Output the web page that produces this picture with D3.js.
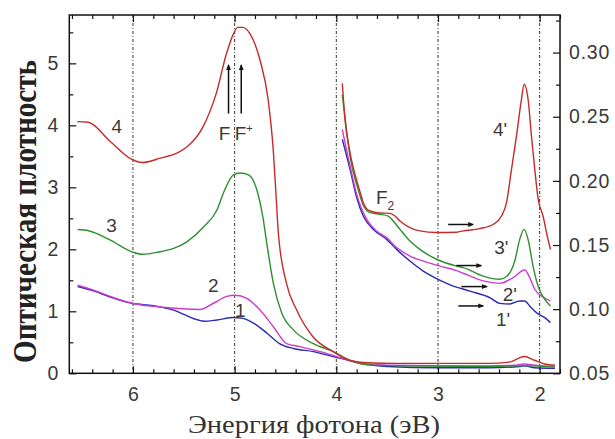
<!DOCTYPE html>
<html>
<head>
<meta charset="utf-8">
<script src="https://cdn.jsdelivr.net/npm/d3@7"></script>
<style>
  body { margin: 0; background: #fff; }
  .tick text { font-family: "Liberation Sans", Arial, sans-serif; font-size: 19.5px; fill: #3a3a3a; }
  .right .tick text { letter-spacing: 0.8px; }
  .lbl { font-family: "Liberation Sans", Arial, sans-serif; font-size: 19px; fill: #3a3a3a; }
</style>
</head>
<body>
<script>
// svg size
var svgWidth = 615;
var svgHeight = 439;

// plot box (pixels)
var box = { left: 69.3, right: 560, top: 15, bottom: 373.3 };

// axis ticks
var xMajor = [6, 5, 4, 3, 2];
var yLeftMajor = [0, 1, 2, 3, 4, 5];
var yRightMajor = [0.05, 0.10, 0.15, 0.20, 0.25, 0.30];

// left axis curves (energy eV, optical density)
var curve1 = [[6.544,1.40],[6.387,1.33],[6.223,1.23],[6.01,1.13],[5.80,1.09],[5.70,1.06],[5.60,1.02],[5.50,0.95],[5.40,0.88],
  [5.30,0.84],[5.175,0.86],[5.012,0.90],[4.93,0.89],[4.815,0.81],[4.684,0.65],[4.559,0.48],[4.422,0.40],[4.226,0.35],
  [4.03,0.27],[3.833,0.19],[3.7,0.14],[3.5,0.11],[3.0,0.09],[2.5,0.09],[2.2,0.11],[2.15,0.12],[2.05,0.09],[1.85,0.08]];
var curve2 = [[6.544,1.42],[6.387,1.34],[6.223,1.24],[6.01,1.13],[5.732,1.07],[5.339,1.03],[5.208,1.13],[5.077,1.24],[4.995,1.26],
  [4.88,1.21],[4.75,1.02],[4.619,0.75],[4.489,0.48],[4.358,0.43],[4.16,0.35],[3.996,0.27],[3.833,0.19],
  [3.7,0.15],[3.5,0.13],[2.5,0.12],[2.25,0.13],[2.15,0.15],[2.05,0.13],[1.85,0.11]];
var curve3 = [[6.544,2.32],[6.436,2.30],[6.223,2.15],[6.01,1.96],[5.912,1.92],[5.764,1.95],[5.47,2.12],[5.306,2.36],[5.175,2.63],
  [5.10,2.95],[5.012,3.20],[4.946,3.23],[4.864,3.20],[4.78,2.95],[4.72,2.50],[4.684,2.10],[4.619,1.45],[4.536,0.97],
  [4.422,0.70],[4.226,0.48],[4.03,0.35],[3.865,0.21],[3.7,0.14],[3.4,0.12],[2.5,0.11],[2.2,0.12],[2.1,0.12],[1.85,0.10]];
var curve4 = [[6.547,4.06],[6.44,4.05],[6.223,3.74],[6.01,3.45],[5.91,3.40],[5.73,3.47],[5.57,3.55],[5.47,3.65],[5.31,3.98],
  [5.18,4.52],[5.08,5.16],[5.01,5.48],[4.97,5.58],[4.92,5.58],[4.85,5.48],[4.75,5.05],[4.67,4.41],[4.62,3.60],[4.59,2.80],
  [4.57,2.26],[4.49,1.45],[4.39,1.02],[4.23,0.59],[4.03,0.35],[3.87,0.21],[3.7,0.17],[3.4,0.16],[3.0,0.16],[2.5,0.16],
  [2.3,0.18],[2.15,0.27],[2.05,0.21],[1.95,0.15],[1.85,0.13]];

// right axis curves (energy eV, optical density)
var curve1p = [[3.941,0.2324],[3.865,0.209],[3.8,0.187],[3.735,0.1726],[3.637,0.1622],[3.505,0.1544],[3.407,0.1466],[3.276,0.1375],
  [3.145,0.1297],[3.014,0.1238],[2.88,0.119],[2.687,0.1141],[2.49,0.109],[2.392,0.1045],[2.294,0.104],[2.196,0.1064],
  [2.147,0.1064],[2.098,0.1025],[2.032,0.0973],[1.95,0.0934],[1.894,0.0895]];
var curve2p = [[3.941,0.240],[3.865,0.2116],[3.8,0.1897],[3.701,0.170],[3.603,0.1609],[3.505,0.1558],[3.407,0.148],[3.276,0.1414],
  [3.145,0.1375],[2.981,0.1336],[2.817,0.130],[2.752,0.128],[2.556,0.122],[2.392,0.1201],[2.261,0.1246],[2.147,0.1305],
  [2.098,0.1246],[2.048,0.1155],[1.982,0.1102],[1.894,0.1064]];
var curve3p = [[3.941,0.267],[3.90,0.240],[3.865,0.219],[3.784,0.193],[3.735,0.181],[3.669,0.1752],[3.571,0.174],[3.489,0.1726],
  [3.44,0.1687],[3.374,0.1622],[3.276,0.1531],[3.178,0.1466],[3.014,0.1389],[2.817,0.1336],[2.752,0.1324],[2.556,0.1258],
  [2.392,0.1233],[2.326,0.1254],[2.245,0.1375],[2.196,0.1544],[2.153,0.1622],[2.114,0.1544],[2.065,0.1336],[2.016,0.118],
  [1.95,0.1077],[1.894,0.1025]];
var curve4p = [[3.941,0.276],[3.915,0.248],[3.865,0.222],[3.784,0.196],[3.75,0.187],[3.735,0.183],[3.669,0.1765],[3.571,0.175],
  [3.473,0.1747],[3.423,0.1726],[3.374,0.1687],[3.276,0.1636],[3.178,0.161],[3.014,0.1597],[2.817,0.160],[2.752,0.161],
  [2.589,0.1628],[2.458,0.166],[2.375,0.1726],[2.326,0.183],[2.277,0.209],[2.228,0.235],[2.179,0.2636],[2.153,0.2753],
  [2.114,0.2636],[2.081,0.235],[2.048,0.209],[2.016,0.1864],[1.967,0.1726],[1.918,0.1544],[1.894,0.1466]];

var colors = { c1: "#2a2ab4", c2: "#cc3ccc", c3: "#2f8f2f", c4: "#c82a2a" };

// curve labels
var leftLabels = [["4", 6.16, 3.98], ["3", 6.21, 2.39], ["2", 5.21, 1.42], ["1", 4.945, 1.02]];
var rightLabels = [["4'", 2.39, 0.240], ["3'", 2.377, 0.148], ["2'", 2.294, 0.1116], ["1'", 2.36, 0.092]];
// horizontal arrows pointing to the right axis: [from eV, to eV, value]
var rightArrows = [[2.90, 2.655, 0.166], [2.82, 2.575, 0.134], [2.77, 2.52, 0.1176], [2.80, 2.556, 0.1025]];

var svg = d3.select("body").append("svg")
  .attr("width", svgWidth)
  .attr("height", svgHeight)
  .style("font-family", "Liberation Sans, Arial, sans-serif");

svg.append("rect").attr("width", svgWidth).attr("height", svgHeight).attr("fill", "#fff");

var defs = svg.append("defs");
defs.append("marker")
  .attr("id", "head")
  .attr("viewBox", "0 0 10 10")
  .attr("refX", 8).attr("refY", 5)
  .attr("markerWidth", 6).attr("markerHeight", 6)
  .attr("markerUnits", "userSpaceOnUse")
  .attr("orient", "auto")
  .append("path").attr("d", "M0,1 L10,5 L0,9 Z").attr("fill", "#111");

// scales
var x = d3.scaleLinear().domain([6.626, 1.80]).range([box.left, box.right]);
var yL = d3.scaleLinear().domain([0, 5.78]).range([box.bottom, box.top]);
var yR = d3.scaleLinear().domain([0.05, 0.3293]).range([box.bottom, box.top]);

// grid lines
svg.append("g").selectAll("line")
  .data(xMajor).enter().append("line")
  .attr("x1", d => x(d)).attr("x2", d => x(d))
  .attr("y1", box.top).attr("y2", box.bottom)
  .attr("stroke", "#333").attr("stroke-width", 1)
  .attr("stroke-dasharray", "3,2,1,2");

// minor tick values
var xMinor = d3.range(18, 67, 2).map(d => d / 10).filter(d => xMajor.indexOf(d) < 0);
var yLMinor = [0.5, 1.5, 2.5, 3.5, 4.5, 5.5];
var yRMinor = [0.075, 0.125, 0.175, 0.225, 0.275, 0.325];

function addAxis(axis, tx, ty, cls) {
  var g = svg.append("g").attr("class", cls || "").attr("transform", `translate(${tx},${ty})`).call(axis);
  g.select(".domain").remove();
  g.selectAll(".tick line").attr("stroke", "#111").attr("stroke-width", 1.2);
  return g;
}

addAxis(d3.axisBottom(x).tickValues(xMajor).tickSize(-7).tickPadding(14).tickFormat(d3.format("d")), 0, box.bottom);
addAxis(d3.axisBottom(x).tickValues(xMinor).tickSize(-4).tickFormat(""), 0, box.bottom);
addAxis(d3.axisTop(x).tickValues(xMajor).tickSize(-7).tickFormat(""), 0, box.top);
addAxis(d3.axisTop(x).tickValues(xMinor).tickSize(-4).tickFormat(""), 0, box.top);
addAxis(d3.axisLeft(yL).tickValues(yLeftMajor).tickSize(-7).tickPadding(11).tickFormat(d3.format("d")), box.left, 0);
addAxis(d3.axisLeft(yL).tickValues(yLMinor).tickSize(-4).tickFormat(""), box.left, 0);
addAxis(d3.axisRight(yR).tickValues(yRightMajor).tickSize(-7).tickPadding(9).tickFormat(d3.format(".2f")), box.right, 0, "right");
addAxis(d3.axisRight(yR).tickValues(yRMinor.filter(d => d < 0.329)).tickSize(-4).tickFormat(""), box.right, 0);

// frame
svg.append("rect")
  .attr("x", box.left).attr("y", box.top)
  .attr("width", box.right - box.left).attr("height", box.bottom - box.top)
  .attr("fill", "none").attr("stroke", "#111").attr("stroke-width", 1.5);

// curves
var lineL = d3.line().x(d => x(d[0])).y(d => yL(d[1])).curve(d3.curveMonotoneX);
var lineR = d3.line().x(d => x(d[0])).y(d => yR(d[1])).curve(d3.curveMonotoneX);

var curves = [
  [curve1, lineL, colors.c1], [curve2, lineL, colors.c2], [curve3, lineL, colors.c3], [curve4, lineL, colors.c4],
  [curve1p, lineR, colors.c1], [curve2p, lineR, colors.c2], [curve3p, lineR, colors.c3], [curve4p, lineR, colors.c4]
];
curves.forEach(function(c) {
  svg.append("path")
    .attr("d", c[1](c[0]))
    .attr("fill", "none")
    .attr("stroke", c[2])
    .attr("stroke-width", 1.4);
});

// curve number labels
svg.append("g").selectAll("text").data(leftLabels).enter().append("text")
  .attr("class", "lbl")
  .attr("x", d => x(d[1])).attr("y", d => yL(d[2]))
  .attr("dy", "0.35em").attr("text-anchor", "middle")
  .text(d => d[0]);
svg.append("g").selectAll("text").data(rightLabels).enter().append("text")
  .attr("class", "lbl")
  .attr("x", d => x(d[1])).attr("y", d => yR(d[2]))
  .attr("dy", "0.35em").attr("text-anchor", "middle")
  .text(d => d[0]);

// arrows to the right axis
svg.append("g").selectAll("line").data(rightArrows).enter().append("line")
  .attr("x1", d => x(d[0])).attr("x2", d => x(d[1]))
  .attr("y1", d => yR(d[2])).attr("y2", d => yR(d[2]))
  .attr("stroke", "#111").attr("stroke-width", 1.5)
  .attr("marker-end", "url(#head)");

// F and F+ arrows
[5.06, 4.935].forEach(function(e) {
  svg.append("line")
    .attr("x1", x(e)).attr("x2", x(e))
    .attr("y1", yL(4.19)).attr("y2", yL(4.97))
    .attr("stroke", "#111").attr("stroke-width", 1.5)
    .attr("marker-end", "url(#head)");
});
svg.append("text").attr("class", "lbl")
  .attr("x", x(5.10)).attr("y", yL(3.87)).attr("dy", "0.35em").attr("text-anchor", "middle")
  .text("F");
var fp = svg.append("text").attr("class", "lbl")
  .attr("x", x(4.91)).attr("y", yL(3.87)).attr("dy", "0.35em").attr("text-anchor", "middle");
fp.append("tspan").text("F");
fp.append("tspan").attr("dy", "-8").style("font-size", "11px").text("+");

// F2 label
var f2 = svg.append("text").attr("class", "lbl")
  .attr("x", x(3.52)).attr("y", yR(0.187)).attr("dy", "0.35em").attr("text-anchor", "middle");
f2.append("tspan").text("F");
f2.append("tspan").attr("dy", "6").style("font-size", "12px").text("2");

// axis titles
svg.append("text")
  .attr("transform", `translate(36, 211.5) rotate(-90)`)
  .attr("text-anchor", "middle")
  .attr("textLength", 303).attr("lengthAdjust", "spacingAndGlyphs")
  .style("font-family", "Liberation Serif, Times New Roman, serif")
  .style("font-weight", "bold").style("font-size", "33px").attr("fill", "#222")
  .text("Оптическая плотность");

svg.append("text")
  .attr("x", 314).attr("y", 433)
  .attr("text-anchor", "middle")
  .attr("textLength", 252).attr("lengthAdjust", "spacingAndGlyphs")
  .style("font-family", "Liberation Serif, Times New Roman, serif")
  .style("font-size", "25px").attr("fill", "#333")
  .text("Энергия фотона (эВ)");
</script>
</body>
</html>
